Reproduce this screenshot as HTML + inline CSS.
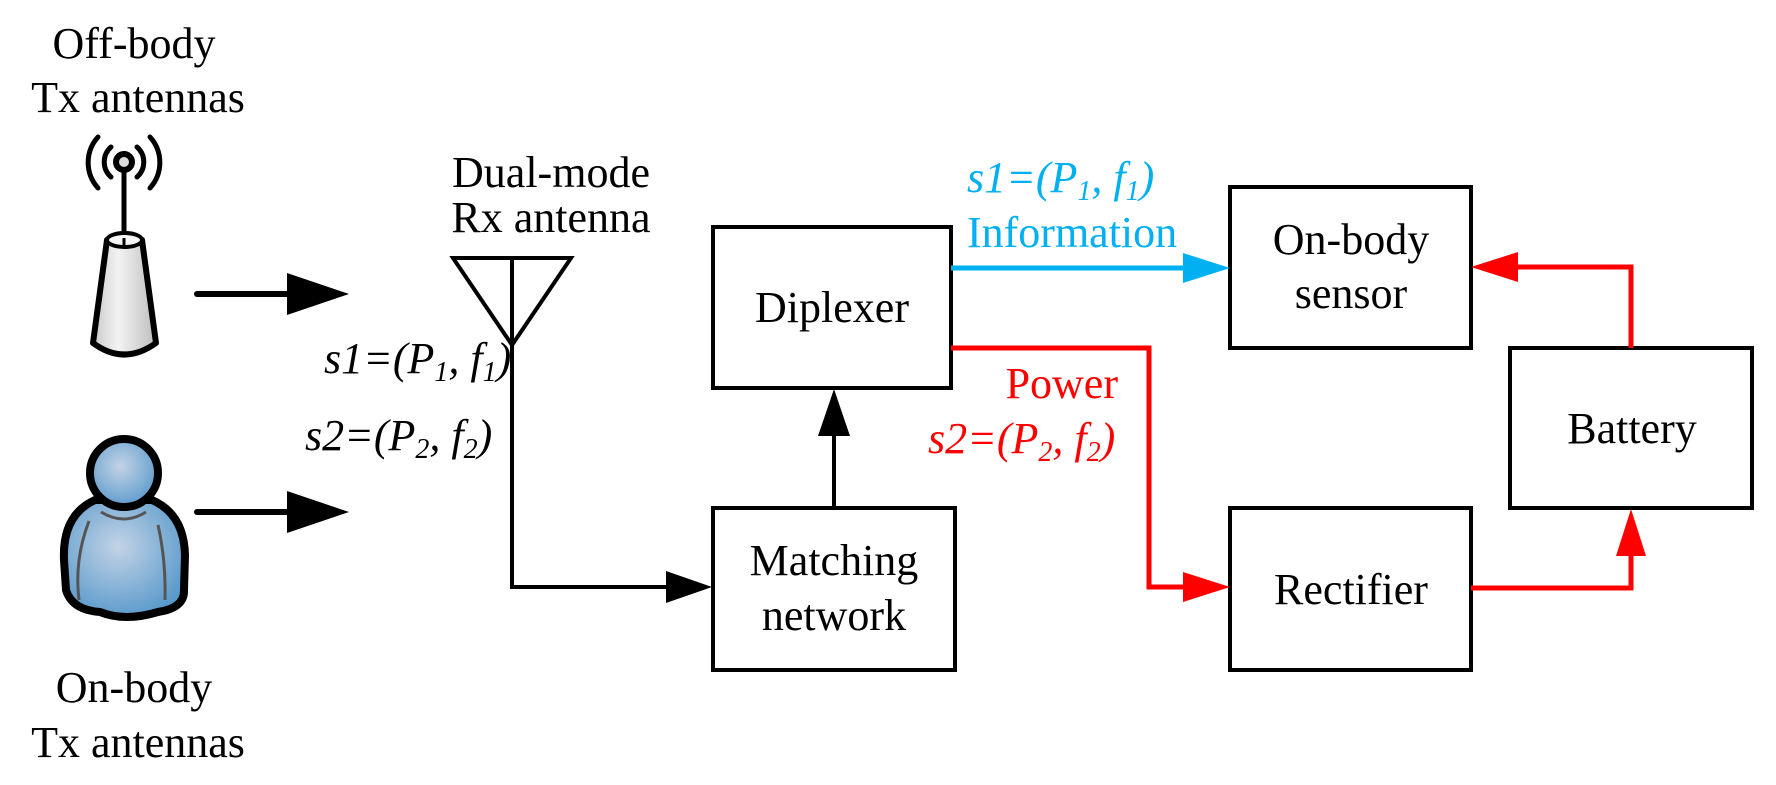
<!DOCTYPE html>
<html><head><meta charset="utf-8"><style>
html,body{margin:0;padding:0;background:#fff;}
svg{display:block;}
svg text{font-family:"Liberation Serif","Times New Roman",Times,"DejaVu Serif",serif;font-size:44px;}
.i{font-style:italic;}
</style></head><body>
<svg width="1776" height="785" viewBox="0 0 1776 785" xmlns="http://www.w3.org/2000/svg" font-family="Liberation Serif, Times New Roman, serif">
<defs>
<radialGradient id="bl" cx="0.45" cy="0.4" r="0.7"><stop offset="0" stop-color="#c3d3e6"/><stop offset="1" stop-color="#4d93c8"/></radialGradient>
<linearGradient id="tw" x1="0" x2="1"><stop offset="0" stop-color="#c9c9c9"/><stop offset="0.4" stop-color="#f3f3f3"/><stop offset="1" stop-color="#bdbdbd"/></linearGradient>
</defs>
<text x="134" y="58" text-anchor="middle">Off-body</text>
<text x="138" y="112" text-anchor="middle">Tx antennas</text>
<text x="134" y="702" text-anchor="middle">On-body</text>
<text x="138" y="757" text-anchor="middle">Tx antennas</text>
<g fill="none" stroke="#000" stroke-width="5" stroke-linecap="round">
<path d="M111 147 A20 20 0 0 0 111 177"/><path d="M137 147 A20 20 0 0 1 137 177"/>
<path d="M98 137 A38 38 0 0 0 98 188"/><path d="M150 137 A38 38 0 0 1 150 188"/>
<line x1="124" y1="165" x2="124" y2="240"/>
</g>
<circle cx="124" cy="162" r="8" fill="#ddd" stroke="#000" stroke-width="6"/>
<path d="M107 240 L93 343 Q124 366 156 343 L142 240 Z" fill="url(#tw)" stroke="#000" stroke-width="6" stroke-linejoin="round"/>
<ellipse cx="124.5" cy="240" rx="17.5" ry="7" fill="#f5f5f5" stroke="#000" stroke-width="4"/>
<line x1="124" y1="238" x2="124" y2="246" stroke="#000" stroke-width="3"/>
<path d="M95 500 Q62 515 64 560 L66 590 Q72 610 100 612 Q125 622 158 612 Q185 608 184 590 L185 555 Q184 514 152 500 Z" fill="url(#bl)" stroke="#000" stroke-width="8" stroke-linejoin="round"/>
<path d="M101 512 Q124 526 146 512" fill="none" stroke="#555" stroke-width="3"/>
<path d="M89 521 Q74 560 79 600" fill="none" stroke="#555" stroke-width="3"/>
<path d="M158 525 Q166 560 165 600" fill="none" stroke="#555" stroke-width="3"/>
<circle cx="124" cy="473" r="34" fill="url(#bl)" stroke="#000" stroke-width="8"/>
<g stroke="#000" stroke-width="6" stroke-linecap="round"><line x1="197" y1="294" x2="292" y2="294"/><line x1="197" y1="512" x2="292" y2="512"/></g>
<polygon points="287,273 349,294 287,315" fill="#000"/>
<polygon points="287,491 349,512 287,533" fill="#000"/>
<text x="551" y="187" text-anchor="middle">Dual-mode</text>
<text x="551" y="232" text-anchor="middle">Rx antenna</text>
<path d="M453 258 L571 258 L512 345 Z" fill="none" stroke="#000" stroke-width="4"/>
<polyline points="512,258 512,587 680,587" fill="none" stroke="#000" stroke-width="4"/>
<polygon points="666,571 712,587 666,603" fill="#000"/>
<text x="324" y="373" class="i">s1=(P<tspan font-size="28" dy="8">1</tspan><tspan dy="-8">, f</tspan><tspan font-size="28" dy="8">1</tspan><tspan dy="-8">)</tspan></text>
<text x="305" y="450" class="i">s2=(P<tspan font-size="28" dy="8">2</tspan><tspan dy="-8">, f</tspan><tspan font-size="28" dy="8">2</tspan><tspan dy="-8">)</tspan></text>
<g fill="none" stroke="#000" stroke-width="4">
<rect x="713" y="227" width="238" height="161"/>
<rect x="713" y="508" width="242" height="162"/>
<rect x="1230" y="187" width="241" height="161"/>
<rect x="1230" y="508" width="241" height="162"/>
<rect x="1510" y="348" width="242" height="160"/>
</g>
<text x="832" y="322" text-anchor="middle">Diplexer</text>
<text x="834" y="575" text-anchor="middle">Matching</text>
<text x="834" y="630" text-anchor="middle">network</text>
<text x="1351" y="254" text-anchor="middle">On-body</text>
<text x="1351" y="308" text-anchor="middle">sensor</text>
<text x="1351" y="604" text-anchor="middle">Rectifier</text>
<text x="1632" y="443" text-anchor="middle">Battery</text>
<line x1="834" y1="508" x2="834" y2="430" stroke="#000" stroke-width="4"/>
<polygon points="818,436 834,389 850,436" fill="#000"/>
<line x1="951" y1="268" x2="1190" y2="268" stroke="#00b0f0" stroke-width="5"/>
<polygon points="1183,253 1230,268 1183,283" fill="#00b0f0"/>
<text x="967" y="192" class="i" fill="#00b0f0">s1=(P<tspan font-size="28" dy="8">1</tspan><tspan dy="-8">, f</tspan><tspan font-size="28" dy="8">1</tspan><tspan dy="-8">)</tspan></text>
<text x="967" y="247" fill="#00b0f0">Information</text>
<g fill="none" stroke="#f00" stroke-width="5">
<polyline points="951,348 1149,348 1149,587 1190,587"/>
<polyline points="1471,588 1631,588 1631,545"/>
<polyline points="1631,348 1631,267 1510,267"/>
</g>
<polygon points="1183,572 1230,587 1183,602" fill="#f00"/>
<polygon points="1616,556 1631,509 1646,556" fill="#f00"/>
<polygon points="1518,252 1471,267 1518,282" fill="#f00"/>
<text x="1118" y="398" text-anchor="end" fill="#f00">Power</text>
<text x="928" y="453" class="i" fill="#f00">s2=(P<tspan font-size="28" dy="8">2</tspan><tspan dy="-8">, f</tspan><tspan font-size="28" dy="8">2</tspan><tspan dy="-8">)</tspan></text>
</svg>
</body></html>
